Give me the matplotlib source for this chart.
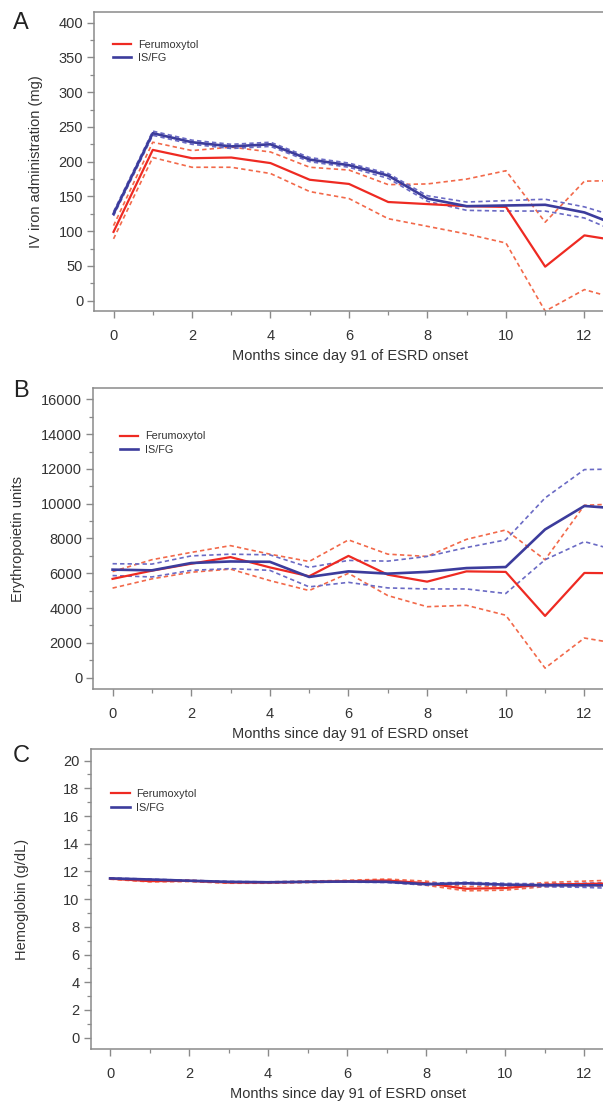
import matplotlib
matplotlib.use("Agg")
import matplotlib.pyplot as plt
from matplotlib.ticker import MultipleLocator

plt.rcParams['font.family'] = ['Liberation Sans', 'DejaVu Sans']

months = [0, 1, 2, 3, 4, 5, 6, 7, 8, 9, 10, 11, 12, 13]

# Panel A - IV iron administration (mg)
iron_fer = [99, 217, 205, 206, 198, 174, 168, 142, 139, 136, 135, 49, 94, 85]
iron_fer_hi = [108, 228, 216, 221, 214, 192, 188, 167, 168, 175, 187, 113, 172, 173]
iron_fer_lo = [89, 206, 192, 192, 183, 157, 147, 118, 107, 96, 83, -15, 16, 0]
iron_isfg = [125, 241, 228, 222, 225, 203, 195, 180, 147, 136, 137, 138, 127, 105]
iron_isfg_hi = [128, 244, 231, 225, 228, 206, 198, 183, 151, 142, 144, 146, 135, 118]
iron_isfg_lo = [122, 238, 225, 219, 222, 200, 192, 176, 143, 130, 129, 129, 119, 95]

# Panel B - Erythropoietin units
epo_fer = [5680, 6150, 6550, 6930, 6340, 5830, 7000, 5920, 5520, 6110, 6080, 3550, 6020, 6000]
epo_fer_hi = [6100, 6780, 7200, 7590, 7100, 6680, 7920, 7100, 6970, 7950, 8490, 6780, 9910, 10000]
epo_fer_lo = [5150, 5680, 6060, 6240, 5580, 5010, 6000, 4720, 4080, 4160, 3590, 550, 2280, 1900]
epo_isfg = [6210, 6170, 6590, 6680, 6660, 5790, 6110, 5980, 6080, 6300, 6360, 8520, 9870, 9700]
epo_isfg_hi = [6550, 6530, 7000, 7100, 7060, 6340, 6740, 6700, 6970, 7480, 7920, 10330, 11960, 12000]
epo_isfg_lo = [5870, 5790, 6170, 6270, 6170, 5220, 5480, 5160, 5100, 5100, 4840, 6780, 7820, 7200]

# Panel C - Hemoglobin (g/dL)
hb_fer = [11.48, 11.3, 11.32, 11.2, 11.2, 11.25, 11.3, 11.35, 11.15, 10.75, 10.8, 11.05, 11.1, 11.15]
hb_fer_hi = [11.52, 11.36, 11.37, 11.25, 11.25, 11.3, 11.36, 11.45, 11.3, 10.9, 10.95, 11.2, 11.3, 11.4]
hb_fer_lo = [11.44, 11.25, 11.27, 11.15, 11.15, 11.2, 11.24, 11.25, 11.0, 10.6, 10.65, 10.9, 10.95, 10.95]
hb_isfg = [11.5, 11.42, 11.33, 11.25, 11.22, 11.25, 11.27, 11.25, 11.08, 11.15, 11.05, 11.0, 11.0, 11.0]
hb_isfg_hi = [11.53, 11.45, 11.36, 11.28, 11.25, 11.28, 11.31, 11.3, 11.15, 11.22, 11.14, 11.1, 11.15, 11.2]
hb_isfg_lo = [11.47, 11.39, 11.3, 11.22, 11.19, 11.22, 11.23, 11.2, 11.01, 11.08, 10.96, 10.9, 10.85, 10.75]

RED = '#ee2a22'
RED_D = '#f2694a'
BLUE = '#3c3c9c'
BLUE_D = '#6a6ac4'
GREY = '#8a8a8a'

W, H = 603, 1102
fig = plt.figure(figsize=(W / 100, H / 100), dpi=100)


def px_axes(left, top, bottom, right=606):
    return fig.add_axes([left / W, 1 - bottom / H, (right - left) / W, (bottom - top) / H])


panels = [
    # letter, axes box (left, top, bottom), ylim, ytick step, minor step, ylabel, label x px, legend pos, data
    ('A', (94.3, 11.7, 311), (-14.8, 415.8), 50, 25, 'IV iron administration (mg)', 36, (0.036, 0.905), 0.22,
     (iron_fer, iron_fer_hi, iron_fer_lo, iron_isfg, iron_isfg_hi, iron_isfg_lo), (21, 23)),
    ('B', (93.3, 387.7, 689.3), (-667, 16667), 2000, 1000, 'Erythropoietin units', 18, (0.052, 0.855), 0.32,
     (epo_fer, epo_fer_hi, epo_fer_lo, epo_isfg, epo_isfg_hi, epo_isfg_lo), (21, 391)),
    ('C', (90.7, 749, 1049.3), (-0.84, 20.84), 2, 1, 'Hemoglobin (g/dL)', 22, (0.040, 0.868), 0.36,
     (hb_fer, hb_fer_hi, hb_fer_lo, hb_isfg, hb_isfg_hi, hb_isfg_lo), (21, 756)),
]

for letter, box, ylim, ystep, yminor, ylabel, lab_x, leg_pos, leg_sp, data, let_pos in panels:
    left, top, bottom = box
    ax = px_axes(left, top, bottom)
    fer, fer_hi, fer_lo, isfg, isfg_hi, isfg_lo = data

    dash = (0, (2.6, 1.9))
    ax.plot(months, fer_hi, color=RED_D, lw=1.2, linestyle=dash)
    ax.plot(months, fer_lo, color=RED_D, lw=1.2, linestyle=dash)
    ax.plot(months, isfg_hi, color=BLUE_D, lw=1.2, linestyle=dash)
    ax.plot(months, isfg_lo, color=BLUE_D, lw=1.2, linestyle=dash)
    ax.plot(months, fer, color=RED, lw=1.6, label='Ferumoxytol')
    ax.plot(months, isfg, color=BLUE, lw=1.9, label='IS/FG')

    ax.set_xlim(-0.49, 12.55)
    ax.set_ylim(*ylim)
    ax.xaxis.set_major_locator(MultipleLocator(2))
    ax.xaxis.set_minor_locator(MultipleLocator(1))
    ax.yaxis.set_major_locator(MultipleLocator(ystep))
    ax.yaxis.set_minor_locator(MultipleLocator(yminor))

    for s in ax.spines.values():
        s.set_color(GREY)
        s.set_linewidth(1.1)
    ax.tick_params(which='major', length=5, width=1, color=GREY, labelsize=10.5, labelcolor='#333333')
    ax.tick_params(which='minor', length=3, width=0.9, color=GREY)
    ax.tick_params(axis='x', which='major', pad=8)
    ax.tick_params(axis='y', which='major', pad=3)

    ax.set_xlabel('Months since day 91 of ESRD onset', fontsize=10.5, color='#333333', labelpad=4)
    ax.set_ylabel(ylabel, fontsize=10.5, color='#333333', va='center')
    ax.yaxis.set_label_coords((lab_x - left) / (606 - left), 0.5)

    leg = ax.legend(loc='upper left', bbox_to_anchor=leg_pos, frameon=False, fontsize=7.8,
                    handlelength=1.7, handletextpad=0.6, labelspacing=leg_sp,
                    borderpad=0, borderaxespad=0)
    for t in leg.get_texts():
        t.set_color('#333333')

    fig.text(let_pos[0] / W, 1 - let_pos[1] / H, letter, fontsize=17, color='#222222',
             ha='center', va='center')

fig.savefig('out.png', dpi=100)
